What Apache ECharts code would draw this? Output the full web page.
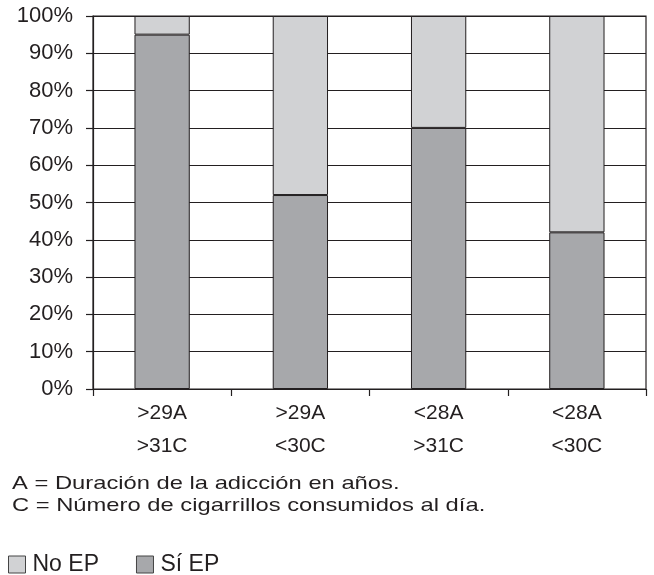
<!DOCTYPE html>
<html>
<head>
<meta charset="utf-8">
<script src="https://cdn.jsdelivr.net/npm/echarts@6/dist/echarts.min.js"></script>
<style>html,body{margin:0;padding:0;background:#fff;}#c{width:654px;height:575px;}</style>
</head>
<body>
<div id="c"></div>
<script>
var categories = ['>29A\n>31C', '>29A\n<30C', '<28A\n>31C', '<28A\n<30C'];
var siEP = [95, 52, 70, 42];
var noEP = [5, 48, 30, 58];
var yTicks = [0, 10, 20, 30, 40, 50, 60, 70, 80, 90, 100];
var notes = ['A = Duración de la adicción en años.', 'C = Número de cigarrillos consumidos al día.'];

var dark = '#231f20';
var FONT = 'Liberation Sans, Arial, sans-serif';
var chart = echarts.init(document.getElementById('c'));
chart.setOption({
  animation: false,
  grid: { left: 93, right: 8, top: 16, bottom: 186, show: true, borderColor: dark, borderWidth: 1.2 },
  legend: {
    data: ['No EP', 'Sí EP'],
    left: 8, top: 553, padding: 0,
    icon: 'rect', itemWidth: 17, itemHeight: 17, itemGap: 37,
    itemStyle: { borderColor: '#444', borderWidth: 1 },
    textStyle: { fontFamily: FONT, fontSize: 23, lineHeight: 23, color: dark, padding: [0, 0, 0, 2] }
  },
  xAxis: {
    type: 'category', data: categories,
    axisLine: { show: true, lineStyle: { color: dark, width: 1.2 } },
    axisTick: { show: true, length: 7, lineStyle: { color: dark, width: 1.2 } },
    axisLabel: { fontFamily: FONT, fontSize: 21, color: dark, lineHeight: 33, margin: 8 }
  },
  yAxis: {
    type: 'value', min: 0, max: 100, interval: 10,
    axisLine: { show: true, lineStyle: { color: dark, width: 1.2 } },
    axisTick: { show: true, length: 7, lineStyle: { color: dark, width: 1.2 } },
    splitLine: { show: true, lineStyle: { color: dark, width: 1.2 } },
    axisLabel: { fontFamily: FONT, fontSize: 22, color: dark, margin: 20,
      formatter: function (v) { return yTicks.indexOf(v) >= 0 ? v + '%' : ''; } }
  },
  series: [
    { name: 'Sí EP', type: 'bar', stack: 's', data: siEP, barWidth: '40%',
      itemStyle: { color: '#a7a8ab', borderColor: dark, borderWidth: 1 } },
    { name: 'No EP', type: 'bar', stack: 's', data: noEP, barWidth: '40%',
      itemStyle: { color: '#d1d2d4', borderColor: dark, borderWidth: 1 } }
  ],
  graphic: [
    { type: 'text', x: 12, y: 484, scaleX: 1.25,
      style: { text: notes[0], font: '19px ' + FONT, fill: dark, align: 'left', verticalAlign: 'middle' } },
    { type: 'text', x: 12, y: 506, scaleX: 1.25,
      style: { text: notes[1], font: '19px ' + FONT, fill: dark, align: 'left', verticalAlign: 'middle' } }
  ]
});
</script>
</body>
</html>
